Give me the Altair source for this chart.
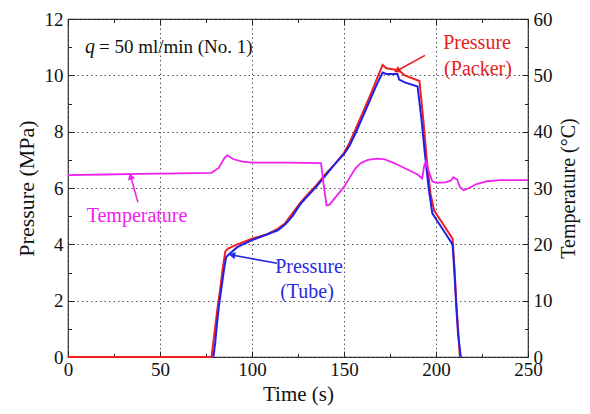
import altair as alt
import pandas as pd

# ---------------- data ----------------
packer_t = [0, 78, 79.5, 81, 82.5, 84, 85.5, 87, 92, 100, 108, 114, 118, 122, 126, 130, 135, 140,
            145, 150, 153, 157, 161, 165, 168, 171, 173, 178, 179.5, 183, 191, 193, 195, 197, 199,
            203, 209, 210, 211, 212, 213]
packer_p = [0, 0, 0.8, 1.6, 2.3, 3.1, 3.75, 3.85, 4.0, 4.2, 4.35, 4.55, 4.75, 5.1, 5.45, 5.75, 6.1, 6.5,
            6.85, 7.25, 7.6, 8.2, 8.8, 9.4, 9.9, 10.37, 10.25, 10.2, 10.2, 10.0, 9.8, 8.5, 7.0, 5.8, 5.2,
            4.8, 4.2, 3.2, 2.0, 1.0, 0]

tube_t = [79, 80, 81, 82, 83.5, 85, 86, 87.5, 92, 100, 108, 114, 118, 122, 126, 130, 135, 140,
          145, 150, 153, 157, 161, 165, 168, 171, 173, 179, 180, 183, 190, 192, 194, 196, 198,
          200, 204, 209, 210, 211, 212, 213.5]
tube_p = [0, 0.5, 1.2, 1.8, 2.5, 3.2, 3.55, 3.65, 3.9, 4.15, 4.35, 4.5, 4.7, 5.0, 5.4, 5.7, 6.05, 6.45,
          6.85, 7.2, 7.5, 8.05, 8.65, 9.25, 9.7, 10.1, 10.05, 10.05, 9.85, 9.75, 9.6, 8.5, 7.2, 6.0, 5.1,
          4.9, 4.5, 4.0, 3.0, 1.8, 0.8, 0]

temp_t = [0, 20, 40, 60, 78, 82, 85, 86.5, 90, 95, 100, 120, 137.5, 138.8, 140.5, 142, 144, 147, 150,
          153, 156, 159, 163, 168, 172, 176, 180, 185, 190, 192.5, 193.5, 194.5, 196, 198, 200, 205,
          208, 209.5, 211.5, 213, 215, 218, 222, 228, 235, 250]
temp_v = [32.3, 32.4, 32.5, 32.6, 32.7, 33.6, 35.3, 35.8, 35.1, 34.7, 34.5, 34.5, 34.4, 31.0, 26.9, 27.0, 27.8,
          29.0, 30.2, 31.8, 33.4, 34.4, 35.0, 35.2, 35.1, 34.6, 34.0, 33.2, 32.4, 31.7, 33.8, 34.7, 33.0,
          31.2, 30.9, 31.0, 31.3, 31.9, 31.5, 30.2, 29.6, 30.0, 30.7, 31.2, 31.4, 31.4]

x_major = [0, 50, 100, 150, 200, 250]
x_minor = [25, 75, 125, 175, 225]
p_major = [0, 2, 4, 6, 8, 10, 12]
p_minor = [1, 3, 5, 7, 9, 11]
temp_major = [0, 10, 20, 30, 40, 50, 60]

label_text = ["Pressure", "(Packer)", "Temperature", "Pressure", "(Tube)"]
label_t = [222.3, 222.8, 37.5, 131.0, 129.9]
label_p = [11.14, 10.22, 4.99, 3.18, 2.30]
label_color = ["#e82020", "#e82020", "#ee22ee", "#2a2ae0", "#2a2ae0"]

cond_text = ["q", "= 50 ml/min (No. 1)"]
cond_t = [9.2, 16.8]
cond_p = [10.99, 10.99]

arrow_id = ["packer", "packer", "temp", "temp", "tube", "tube"]
arrow_t = [194.0, 179.3, 38.0, 34.2, 113.6, 89.7]
arrow_p = [10.71, 10.18, 5.49, 6.38, 3.33, 3.61]
arrow_color = ["#e82020", "#e82020", "#ee22ee", "#ee22ee", "#2a2ae0", "#2a2ae0"]

head_t = [179.3, 34.2, 89.7]
head_p = [10.18, 6.38, 3.61]
head_angle = [241, 344, 280]
head_color = ["#e82020", "#ee22ee", "#2a2ae0"]

# ---------------- tables ----------------
packer_df = pd.DataFrame({"t": packer_t, "p": packer_p})
tube_df = pd.DataFrame({"t": tube_t, "p": tube_p})
temp_df = pd.DataFrame({"t": temp_t, "T": temp_v})
label_df = pd.DataFrame({"t": label_t, "p": label_p, "txt": label_text, "c": label_color})
q_df = pd.DataFrame({"t": cond_t[:1], "p": cond_p[:1], "txt": cond_text[:1]})
rest_df = pd.DataFrame({"t": cond_t[1:], "p": cond_p[1:], "txt": cond_text[1:]})
arrow_df = pd.DataFrame({"t": arrow_t, "p": arrow_p, "id": arrow_id, "c": arrow_color})
head_df = pd.DataFrame({"t": head_t, "p": head_p, "a": head_angle, "c": head_color})

FONT = "Liberation Serif, Times New Roman, DejaVu Serif, serif"
xs = alt.Scale(domain=[0, 250], nice=False, zero=False)
ps = alt.Scale(domain=[0, 12], nice=False)
ts = alt.Scale(domain=[0, 60], nice=False)

MAJ = 6
MIN = 3.5

def major_axis(orient, values, title=None, labels=True, grid=False, **kw):
    args = dict(orient=orient, values=values, tickSize=MAJ, offset=-MAJ, domain=False,
                grid=grid, labels=labels, labelFlush=False, labelOverlap=False,
                tickColor="#222222", tickWidth=1)
    if grid:
        args.update(gridDash=[1.5, 3], gridColor="#555555", gridWidth=1)
    args["title"] = title
    args.update(kw)
    return alt.Axis(**args)

def minor_axis(orient, values):
    return alt.Axis(orient=orient, values=values, tickSize=MIN, offset=-MIN, domain=False,
                    grid=False, labels=False, title=None, tickColor="#222222", tickWidth=1)

red = alt.Chart(packer_df).mark_line(color="#ee2020", strokeWidth=2).encode(
    x=alt.X("t:Q", scale=xs, axis=major_axis("bottom", x_major, title="Time (s)", grid=True,
                                              labelPadding=3, titlePadding=4)),
    y=alt.Y("p:Q", scale=ps, axis=major_axis("left", p_major, title="Pressure (MPa)", grid=True,
                                              labelPadding=5, titlePadding=6, titleFontSize=22)),
)

blue = alt.Chart(tube_df).mark_line(color="#2020e8", strokeWidth=2).encode(
    x=alt.X("t:Q", scale=xs, axis=None),
    y=alt.Y("p:Q", scale=ps, axis=None),
)

temp = alt.Chart(temp_df).mark_line(color="#ee22ee", strokeWidth=1.8).encode(
    x=alt.X("t:Q", scale=xs, axis=major_axis("top", x_major, labels=False)),
    y=alt.Y("T:Q", scale=ts, axis=major_axis("right", temp_major, title="Temperature (°C)",
                                              labelPadding=5, titlePadding=6, titleAngle=270,
                                              titleBaseline="top", titleFontSize=20)),
)

labels = alt.Chart(label_df).mark_text(font=FONT, fontSize=20, align="center", baseline="middle").encode(
    x=alt.X("t:Q", scale=xs, axis=minor_axis("bottom", x_minor)),
    y=alt.Y("p:Q", scale=ps, axis=minor_axis("left", p_minor)),
    text="txt:N",
    color=alt.Color("c:N", scale=None),
)

arrows = alt.Chart(arrow_df).mark_line(strokeWidth=1.6).encode(
    x=alt.X("t:Q", scale=xs, axis=minor_axis("top", x_minor)),
    y=alt.Y("p:Q", scale=ps, axis=minor_axis("right", p_minor)),
    detail="id:N",
    color=alt.Color("c:N", scale=None),
)

heads = alt.Chart(head_df).mark_point(shape="triangle", filled=True, size=55, opacity=1).encode(
    x=alt.X("t:Q", scale=xs, axis=None),
    y=alt.Y("p:Q", scale=ps, axis=None),
    angle=alt.Angle("a:Q", scale=None),
    color=alt.Color("c:N", scale=None),
)

qmark = alt.Chart(q_df).mark_text(font=FONT, fontSize=20, fontStyle="italic", align="left",
                                  baseline="middle", color="#111111").encode(
    x=alt.X("t:Q", scale=xs, axis=None),
    y=alt.Y("p:Q", scale=ps, axis=None),
    text="txt:N",
)

rest = alt.Chart(rest_df).mark_text(font=FONT, fontSize=19, align="left",
                                    baseline="middle", color="#111111").encode(
    x=alt.X("t:Q", scale=xs, axis=None),
    y=alt.Y("p:Q", scale=ps, axis=None),
    text="txt:N",
)

chart = alt.layer(red, blue, temp, labels, arrows, heads, qmark, rest).resolve_scale(
    x="shared", y="independent"
).resolve_axis(
    x="independent", y="independent"
).properties(
    width=460, height=338,
    autosize=alt.AutoSizeParams(type="none"),
    padding={"left": 60, "top": 11, "right": 54, "bottom": 49},
).configure_view(
    stroke="#222222", strokeWidth=1.2
).configure_axis(
    labelFont=FONT, labelFontSize=19, labelColor="#111111",
    titleFont=FONT, titleFontSize=21, titleFontWeight="normal", titleColor="#111111",
)

chart.save("out.html", embed_options={"renderer": "svg", "actions": False})
